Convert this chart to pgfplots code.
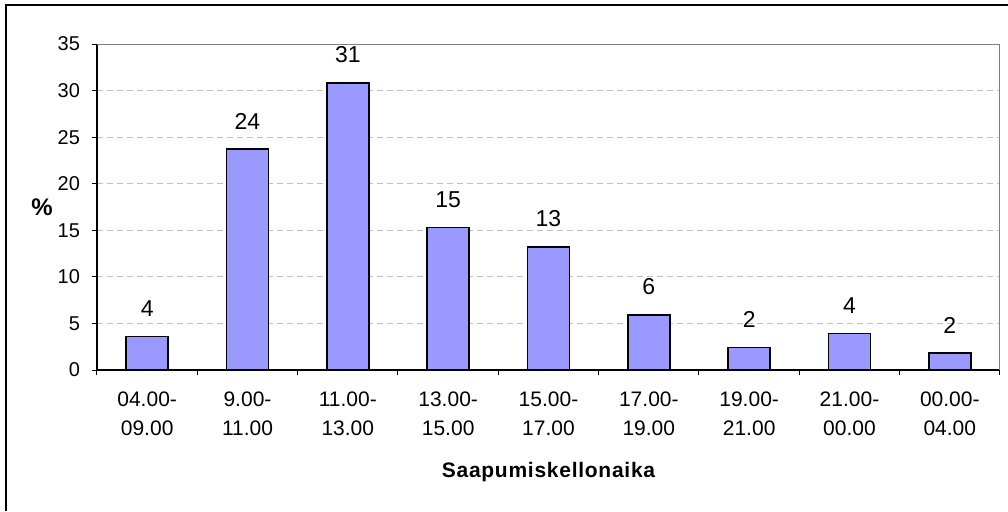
\documentclass[border=0pt]{standalone}
\usepackage{fontspec}
\setmainfont{Liberation Sans}
\newfontfamily\spacedfont[LetterSpace=3.5]{Liberation Sans}
\usepackage{pgfplots}
\pgfplotsset{compat=1.18}
\definecolor{barblue}{HTML}{9999FF}
\definecolor{gridgray}{HTML}{C0C0C0}
\definecolor{framegray}{HTML}{808080}
\begin{document}
\begin{tikzpicture}
\useasboundingbox (0,0) rectangle (504pt,255.5pt);
% outer chart frame (cut at right and bottom)
\draw[line width=0.9pt] (3pt,0) -- (3pt,253pt) -- (504pt,253pt);
\begin{axis}[
    at={(48.5pt,70.5pt)}, anchor=south west,
    scale only axis,
    width=451.5pt, height=163pt,
    /pgf/number format/assume math mode=true,
    axis lines*=left,
    axis line style={line width=0.6pt},
    xmin=-0.5, xmax=8.5,
    ymin=0, ymax=35,
    ytick={0,5,...,35},
    xtick={-0.5,0.5,...,8.5},
    xticklabels={},
    extra x ticks={0,...,8},
    extra x tick labels={04.00-\\[1.5pt]09.00, 9.00-\\[1.5pt]11.00, 11.00-\\[1.5pt]13.00, 13.00-\\[1.5pt]15.00, 15.00-\\[1.5pt]17.00, 17.00-\\[1.5pt]19.00, 19.00-\\[1.5pt]21.00, 21.00-\\[1.5pt]00.00, 00.00-\\[1.5pt]04.00},
    extra x tick style={major tick length=0pt, grid=none},
    x tick label style={align=center, font=\fontsize{10.5}{13}\selectfont, yshift=-7.5pt},
    y tick label style={font=\fontsize{10}{12}\selectfont, xshift=-2.5pt},
    tick align=outside,
    tick pos=left,
    major tick length=2.5pt,
    tick style={black, line width=0.5pt},
    ymajorgrids,
    major grid style={gridgray, line width=0.5pt, dash pattern=on 3pt off 2pt},
    xlabel={Saapumiskellonaika},
    every axis x label/.style={at={(rel axis cs:0.5,0)}, anchor=center, yshift=-51pt, font=\spacedfont\fontsize{10.5}{12}\selectfont\bfseries},
    ylabel={\%},
    every axis y label/.style={at={(rel axis cs:0,0.5)}, anchor=center, xshift=-27.5pt, font=\fontsize{12}{14}\selectfont\bfseries},
    nodes near coords={\pgfmathprintnumber[fixed,precision=0]{\pgfplotspointmeta}},
    every node near coord/.append style={font=\fontsize{11.5}{13}\selectfont, yshift=6.3pt, black},
]
\addplot[ybar, bar width=21pt, fill=barblue, draw=black, line width=0.8pt]
    coordinates {(0,3.6) (1,23.7) (2,30.8) (3,15.3) (4,13.2) (5,5.9) (6,2.4) (7,3.9) (8,1.8)};
\draw[framegray, line width=0.6pt] (rel axis cs:0,1) -- (rel axis cs:1,1) -- (rel axis cs:1,0);
\end{axis}
\end{tikzpicture}
\end{document}
